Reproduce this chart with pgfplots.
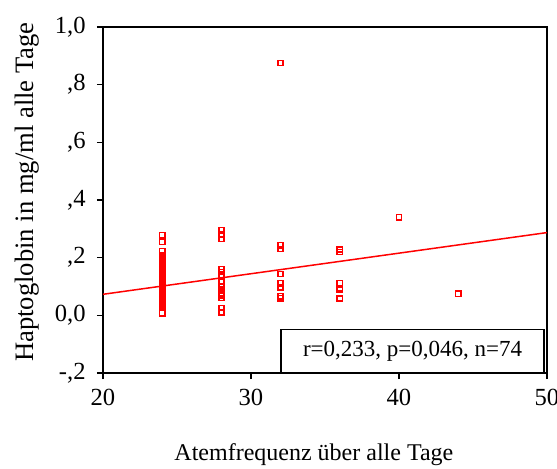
\documentclass[border=0pt]{standalone}
\usepackage{pgfplots}
\pgfplotsset{compat=1.18}
\usepackage{fontspec}
\setmainfont{Liberation Serif}

\definecolor{spssred}{RGB}{255,0,0}

\begin{document}
\fontsize{12}{14}\selectfont
\begin{tikzpicture}
\useasboundingbox (-51.5pt,-47.5pt) rectangle (227pt,186.5pt);
\begin{axis}[
  scale only axis,
  width=222pt, height=173pt,
  xmin=20, xmax=50, ymin=-0.2, ymax=1.0,
  xtick={20,30,40,50},
  xticklabels={20,30,40,50},
  ytick={-0.2,0,0.2,0.4,0.6,0.8,1.0},
  yticklabels={{-,2},{0,0},{,2},{,4},{,6},{,8},{1,0}},
  xtick pos=bottom, ytick pos=left,
  tick align=outside,
  major tick length=3pt,
  tick style={black, line width=0.6pt},
  axis line style={black, line width=0.75pt},
  ticklabel style={font=\fontsize{12.3}{14}\selectfont},
  xticklabel style={yshift=-1pt},
  yticklabel style={xshift=-1.5pt},
  xlabel={Atemfrequenz über alle Tage},
  ylabel={Haptoglobin in mg/ml alle Tage},
  xlabel style={font=\fontsize{12}{14}\selectfont,
                at={(axis description cs:0.475,-0.237)}, anchor=center},
  ylabel style={font=\fontsize{13.3}{15}\selectfont,
                at={(axis description cs:-0.171,0.523)}, anchor=center},
  clip=false,
]
% observed cases
\addplot[only marks, mark=square, mark size=1.3pt,
         mark options={draw=spssred, line width=0.75pt, fill=white}]
  table {
x y
24 0.278
24 0.254
24 0.223
24 0.209
24 0.204
24 0.199
24 0.195
24 0.190
24 0.185
24 0.180
24 0.176
24 0.171
24 0.166
24 0.161
24 0.157
24 0.152
24 0.147
24 0.142
24 0.138
24 0.133
24 0.128
24 0.123
24 0.119
24 0.114
24 0.109
24 0.104
24 0.100
24 0.095
24 0.090
24 0.085
24 0.081
24 0.076
24 0.071
24 0.066
24 0.062
24 0.057
24 0.052
24 0.047
24 0.043
24 0.038
24 0.033
24 0.028
24 0.007
28 0.295
28 0.280
28 0.265
28 0.160
28 0.150
28 0.135
28 0.120
28 0.100
28 0.090
28 0.085
28 0.075
28 0.070
28 0.060
28 0.025
28 0.010
32 0.875
32 0.243
32 0.230
32 0.143
32 0.111
32 0.097
32 0.066
32 0.059
36 0.228
36 0.220
36 0.111
36 0.095
36 0.090
36 0.058
40 0.340
44 0.075
};
% linear fit
\addplot[spssred, line width=0.75pt] coordinates {(20,0.073) (50,0.287)};
% fit statistics
\node[draw=black, line width=0.7pt, fill=white, anchor=south east,
      minimum width=131.5pt, minimum height=21.5pt, inner sep=0pt,
      font=\fontsize{11.5}{13}\selectfont]
  at (rel axis cs:0.995,0) {r=0,233, p=0,046, n=74};
\end{axis}
\end{tikzpicture}
\end{document}
